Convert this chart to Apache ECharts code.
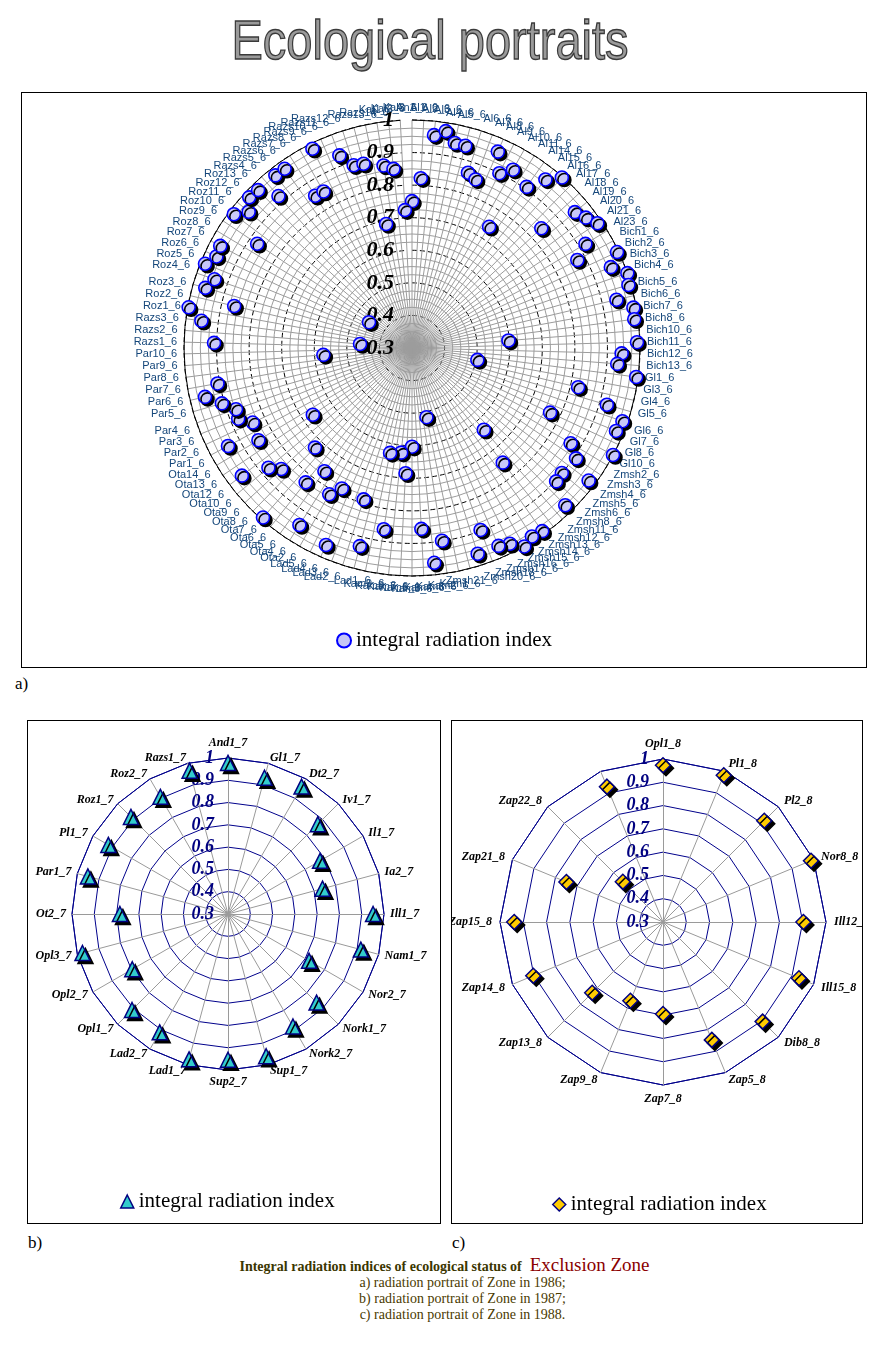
<!DOCTYPE html>
<html><head><meta charset="utf-8">
<script src="https://cdn.jsdelivr.net/npm/echarts@6/dist/echarts.min.js"></script>
<style>
html,body{margin:0;padding:0;background:#fff;}
body{width:885px;height:1349px;position:relative;overflow:hidden;font-family:'Liberation Serif','Times New Roman',serif;}
#title{position:absolute;left:0;top:11px;width:860px;text-align:center;font-family:'Liberation Sans',Arial,sans-serif;font-size:47px;line-height:47px;color:#9a9a9a;-webkit-text-stroke:1.2px #3a3a3a;transform:scaleY(1.19);transform-origin:50% 0;}
.box{position:absolute;border:1px solid #000;box-sizing:border-box;}
.chart{position:absolute;left:0;top:0;width:100%;height:100%;}
.tag{position:absolute;font-size:17px;line-height:17px;color:#000;}
.cap{position:absolute;left:0;width:885px;text-align:center;white-space:nowrap;}
</style></head><body>
<div id="title">Ecological portraits</div>
<div class="box" style="left:21px;top:92px;width:846px;height:576px"><div class="chart" id="ca"></div></div>
<div class="tag" style="left:15px;top:675px">a)</div>
<div class="box" style="left:27px;top:720px;width:414px;height:504px"><div class="chart" id="cb"></div></div>
<div class="tag" style="left:28px;top:1234px">b)</div>
<div class="box" style="left:451px;top:720px;width:412px;height:504px"><div class="chart" id="cc"></div></div>
<div class="tag" style="left:452px;top:1234px">c)</div>
<div class="cap" style="top:1254px;left:2px;"><span style="font-weight:bold;font-size:14px;color:#3b3600;">Integral radiation indices of ecological status of</span>&nbsp; <span style="font-size:19px;color:#8b0000;">Exclusion Zone</span></div>
<div class="cap" style="top:1275px;left:20px;font-size:14px;color:#4a3a00;">a) radiation portrait of Zone in 1986;</div>
<div class="cap" style="top:1291px;left:20px;font-size:14px;color:#4a3a00;">b) radiation portrait of Zone in 1987;</div>
<div class="cap" style="top:1307px;left:20px;font-size:14px;color:#4a3a00;">c) radiation portrait of Zone in 1988.</div>
<script>
// ---------- data ----------
const seriesName = 'integral radiation index';
const radiusTicks = [0.3, 0.4, 0.5, 0.6, 0.7, 0.8, 0.9, 1];

const catsA = ['An1_6','Al1_6','Al2_6','Al3_6','Al4_6','Al5_6','Al6_6','Al7_6','Al8_6','Al9_6','Al10_6','Al11_6','Al14_6','Al15_6','Al16_6','Al17_6','Al18_6','Al19_6','Al20_6','Al21_6','Al23_6',
'Bich1_6','Bich2_6','Bich3_6','Bich4_6','Bich5_6','Bich6_6','Bich7_6','Bich8_6','Bich10_6','Bich11_6','Bich12_6','Bich13_6',
'Gl1_6','Gl3_6','Gl4_6','Gl5_6','Gl6_6','Gl7_6','Gl8_6','Gl10_6',
'Zmsh2_6','Zmsh3_6','Zmsh4_6','Zmsh5_6','Zmsh6_6','Zmsh8_6','Zmsh11_6','Zmsh12_6','Zmsh13_6','Zmsh14_6','Zmsh15_6','Zmsh16_6','Zmsh17_6','Zmsh18_6','Zmsh20_6','Zmsh21_6',
'Kam1_6','Kam2_6','Kam3_6','Kam4_6','Kam5_6','Kam6_6','Kam7_6','Kam8_6','Kam9_6',
'Lad1_6','Lad2_6','Lad3_6','Lad4_6','Lad5_6',
'Ota2_6','Ota4_6','Ota5_6','Ota6_6','Ota7_6','Ota8_6','Ota9_6','Ota10_6','Ota12_6','Ota13_6','Ota14_6',
'Par1_6','Par2_6','Par3_6','Par4_6','Par5_6','Par6_6','Par7_6','Par8_6','Par9_6','Par10_6',
'Razs1_6','Razs2_6','Razs3_6',
'Roz1_6','Roz2_6','Roz3_6','Roz4_6','Roz5_6','Roz6_6','Roz7_6','Roz8_6','Roz9_6','Roz10_6','Roz11_6','Roz12_6','Roz13_6',
'Razs4_6','Razs5_6','Razs6_6','Razs7_6','Razs8_6','Razs9_6','Razs10_6','Razs11_6','Razs12_6','Razs13_6','Razs14_6',
'Kal1_6','Kal2_6','Kal3_6'];

const valsA = [0.751,0.822,0.957,0.974,0.943,0.942,0.865,0.853,0.958,0.900,
0.929,0.741,0.907,0.960,0.997,null,0.841,0.951,0.967,0.986,
0.921,0.875,0.995,0.959,1.000,0.992,0.945,0.991,0.988,0.597,
0.991,0.944,0.932,0.994,0.504,0.824,0.923,0.984,0.976,0.768,
0.999,0.868,0.907,0.978,0.899,0.903,0.974,0.634,0.749,0.990,
0.986,1.000,0.972,0.963,0.897,0.963,null,0.517,0.899,0.963,
0.856,0.603,0.685,0.623,0.863,0.629,0.929,0.788,null,0.960,
0.782,0.816,0.944,0.764,0.826,0.993,0.727,0.847,0.874,0.953,
0.667,0.850,0.940,0.840,0.876,0.872,0.908,0.953,0.907,null,
0.573,null,0.908,0.460,0.952,0.997,0.861,0.961,0.942,0.986,
0.963,0.967,0.454,0.873,0.984,0.953,0.981,0.977,0.921,0.976,
0.975,0.854,0.852,0.984,null,0.932,0.889,0.885,0.689,0.867,
0.853,0.724];

const catsB = ['And1_7','Gl1_7','Dt2_7','Iv1_7','Il1_7','Ia2_7','Ill1_7','Nam1_7','Nor2_7','Nork1_7','Nork2_7','Sup1_7','Sup2_7','Lad1_7','Lad2_7','Opl1_7','Opl2_7','Opl3_7','Ot2_7','Par1_7','Pl1_7','Roz1_7','Roz2_7','Razs1_7'];
const valsB = [0.978,0.933,0.960,0.870,0.777,0.739,0.951,0.917,0.720,0.862,0.883,0.961,0.954,0.975,0.913,0.909,0.796,0.976,0.785,0.951,0.920,0.916,0.907,0.966];

const catsC = ['Opl1_8','Pl1_8','Pl2_8','Nor8_8','Ill12_8','Ill15_8','Dib8_8','Zap5_8','Zap7_8','Zap9_8','Zap13_8','Zap14_8','Zap15_8','Zap21_8','Zap22_8',''];
const valsC = [0.973,0.982,0.915,0.988,0.903,0.932,0.905,0.848,0.695,0.666,0.730,0.903,0.939,0.749,0.544,0.929];

// ---------- helpers ----------
const SERIF = "'Liberation Serif','Times New Roman',serif";
const SANS = "'Liberation Sans',Arial,sans-serif";
const fmt = v => String(parseFloat((+v).toFixed(1)));
const rMin = radiusTicks[0], rMax = radiusTicks[radiusTicks.length - 1];
// radar draws indicators counter-clockwise; reorder so they run clockwise
const cw = arr => [arr[0]].concat(arr.slice(1).reverse());

// ---------- chart a ----------
const ca = echarts.init(document.getElementById('ca'));
ca.setOption({
  animation: false,
  polar: { center: [390, 255], radius: 228 },
  angleAxis: {
    type: 'category', data: catsA, startAngle: 90, clockwise: true, boundaryGap: false,
    axisLine: { show: true, lineStyle: { color: '#000', width: 1 } },
    axisTick: { show: false },
    axisLabel: { interval: 0, color: '#14467a', fontFamily: SANS, fontSize: 11, margin: 7 },
    splitLine: { show: true, interval: 0, lineStyle: { color: '#9c9c9c', width: 1 } }
  },
  radiusAxis: {
    type: 'value', min: rMin, max: rMax, interval: 0.1,
    axisLine: { show: false }, axisTick: { show: false },
    axisLabel: { formatter: fmt, fontFamily: SERIF, fontStyle: 'italic', fontWeight: 'bold', fontSize: 22, color: '#000', margin: 18 },
    splitLine: { show: true, lineStyle: { color: '#000', width: 1, type: [5, 3] } },
    minorTick: { show: false, splitNumber: 4 },
    minorSplitLine: { show: true, lineStyle: { color: '#9c9c9c', width: 1 } }
  },
  legend: {
    data: [{ name: seriesName, icon: 'circle' }], left: 'center', top: 532,
    itemWidth: 14, itemHeight: 14,
    itemStyle: { color: '#c6c6f6', borderColor: '#0000ff', borderWidth: 2, shadowBlur: 0, shadowOffsetX: 0, shadowOffsetY: 0, shadowColor: 'rgba(0,0,0,0)' },
    textStyle: { fontFamily: SERIF, fontSize: 21, color: '#000' }
  },
  series: [{
    type: 'scatter', name: seriesName, coordinateSystem: 'polar',
    data: valsA.map((v, i) => [v, i]).filter(d => d[0] != null),
    symbol: 'circle', symbolSize: 13,
    itemStyle: { color: '#c8c8f8', borderColor: '#0000ff', borderWidth: 1.6, shadowColor: '#000', shadowBlur: 0.5, shadowOffsetX: 2.5, shadowOffsetY: 2.5, opacity: 1 }
  }]
});

// ---------- radar charts b, c ----------
function radarOption(cats, vals, center, radius, symbol, fill, legendLeft, legendTop, nameGap) {
  return {
    animation: false,
    radar: {
      center: center, radius: radius, startAngle: 90, shape: 'polygon', splitNumber: radiusTicks.length - 1,
      indicator: cw(cats).map((n, i) => ({ name: n, min: rMin, max: rMax, axisLabel: { show: i === 0 } })),
      axisName: { color: '#000', fontFamily: SERIF, fontStyle: 'italic', fontWeight: 'bold', fontSize: 12 },
      nameGap: nameGap,
      axisLine: { show: true, lineStyle: { color: '#9a9a9a', width: 1 } },
      axisTick: { show: false },
      splitLine: { show: true, lineStyle: { color: '#00008b', width: 1 } },
      splitArea: { show: false },
      axisLabel: { show: false, formatter: fmt, fontFamily: SERIF, fontStyle: 'italic', fontWeight: 'bold', fontSize: 18, color: '#000080', margin: 14 }
    },
    legend: {
      data: [{ name: seriesName, icon: symbol }], left: legendLeft, top: legendTop,
      itemWidth: 13, itemHeight: 13,
      itemStyle: { color: fill, borderColor: '#000080', borderWidth: 1.5, shadowBlur: 0, shadowOffsetX: 0, shadowOffsetY: 0, shadowColor: 'rgba(0,0,0,0)' },
      lineStyle: { opacity: 0 },
      textStyle: { fontFamily: SERIF, fontSize: 21, color: '#000' }
    },
    series: [{
      type: 'radar', name: seriesName,
      data: [{ value: cw(vals), name: seriesName }],
      symbol: symbol, symbolSize: 15,
      lineStyle: { width: 0, opacity: 0 },
      itemStyle: { color: fill, borderColor: '#000080', borderWidth: 1.5, shadowColor: '#000', shadowBlur: 0.5, shadowOffsetX: 3, shadowOffsetY: 3 }
    }]
  };
}

const cb = echarts.init(document.getElementById('cb'));
cb.setOption(radarOption(catsB, valsB, [200, 193], 156, 'triangle', '#33cccc', 87, 465, 6));

const cc = echarts.init(document.getElementById('cc'));
cc.setOption(radarOption(catsC, valsC, [211, 201], 163, 'diamond', '#ffcc00', 95, 468, 8));
</script>
</body></html>
